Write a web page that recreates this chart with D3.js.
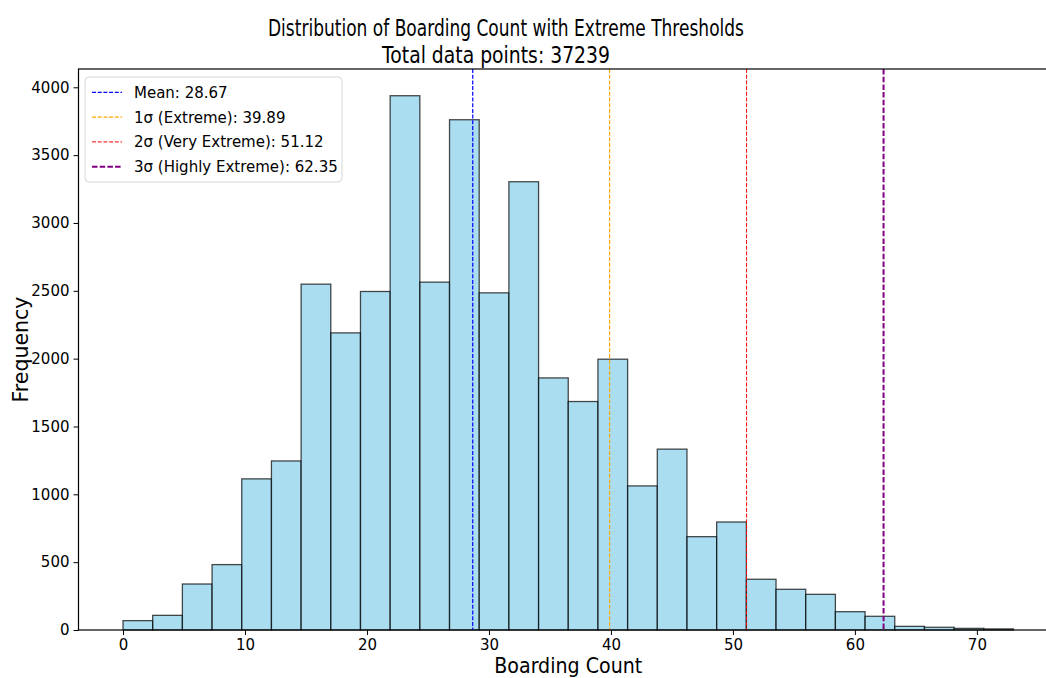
<!DOCTYPE html>
<html>
<head>
<meta charset="utf-8">
<script src="https://cdn.jsdelivr.net/npm/d3@7"></script>
<style>
  body { margin: 0; background: #fff; }
  svg text { font-family: "DejaVu Sans", sans-serif; fill: #000; }
</style>
</head>
<body>
<div id="chart"></div>
<script>
// histogram bins (0 to 73, 30 bins) and counts
const binStart = 0, binEnd = 73, binCount = 30;
const counts = [69, 108, 339, 482, 1114, 1246, 2549, 2190, 2495, 3938,
  2564, 3761, 2485, 3304, 1858, 1684, 1996, 1062, 1333, 688,
  796, 374, 300, 263, 135, 101, 27, 20, 12, 8];
const totalPoints = 37239;

const threshLabels = ["Mean: 28.67", "1σ (Extreme): 39.89", "2σ (Very Extreme): 51.12", "3σ (Highly Extreme): 62.35"];
const threshValues = [28.67, 39.89, 51.12, 62.35];
const threshColors = ["blue", "orange", "red", "purple"];
const threshWidths = [1.2, 1.2, 1, 2];

const xTicks = [0, 10, 20, 30, 40, 50, 60, 70];
const yTicks = [0, 500, 1000, 1500, 2000, 2500, 3000, 3500, 4000];

const W = 1046, H = 678;
const plot = { left: 78.5, right: 1058, top: 69, bottom: 630 };

const binW = (binEnd - binStart) / binCount;
const bins = counts.map((c, i) => ({ x0: binStart + i * binW, x1: binStart + (i + 1) * binW, n: c }));

const pad = (binEnd - binStart) * 0.05;
const x = d3.scaleLinear().domain([binStart - pad, binEnd + pad]).range([plot.left, plot.right]);
const y = d3.scaleLinear().domain([0, d3.max(counts) * 1.05]).range([plot.bottom, plot.top]);

const svg = d3.select("#chart").append("svg")
  .attr("width", W)
  .attr("height", H);

// bars
svg.selectAll(".bar")
  .data(bins)
  .enter().append("rect")
  .attr("class", "bar")
  .attr("x", d => x(d.x0))
  .attr("y", d => y(d.n))
  .attr("width", d => x(d.x1) - x(d.x0))
  .attr("height", d => y(0) - y(d.n))
  .style("fill", "skyblue")
  .style("fill-opacity", 0.7)
  .style("stroke", "#000")
  .style("stroke-opacity", 0.7)
  .style("stroke-width", 1.3);

// threshold lines
const dash = w => w > 1.5 ? "5.5,2.2" : "4,1.7";
svg.selectAll(".thresh")
  .data(threshValues)
  .enter().append("line")
  .attr("class", "thresh")
  .attr("x1", d => x(d)).attr("x2", d => x(d))
  .attr("y1", plot.top).attr("y2", plot.bottom)
  .style("stroke", (d, i) => threshColors[i])
  .style("stroke-width", (d, i) => threshWidths[i])
  .style("stroke-dasharray", (d, i) => dash(threshWidths[i]));

// axes
const xAxis = svg.append("g")
  .attr("transform", "translate(0," + plot.bottom + ")")
  .call(d3.axisBottom(x).tickValues(xTicks).tickFormat(d3.format("d")).tickSizeOuter(0).tickSize(5).tickPadding(4));
const yAxis = svg.append("g")
  .attr("transform", "translate(" + plot.left + ",0)")
  .call(d3.axisLeft(y).tickValues(yTicks).tickFormat(d3.format("d")).tickSizeOuter(0).tickSize(5).tickPadding(4));

[xAxis, yAxis].forEach(g => {
  g.select(".domain").remove();
  g.selectAll(".tick line").style("stroke", "#000").style("stroke-width", 1);
  g.selectAll(".tick text").style("font-size", "15px").style("font-family", "DejaVu Sans, sans-serif").style("fill", "#000");
});

// spines
svg.append("rect")
  .attr("x", plot.left).attr("y", plot.top)
  .attr("width", plot.right - plot.left).attr("height", plot.bottom - plot.top)
  .style("fill", "none").style("stroke", "#000").style("stroke-width", 1.2);

// titles
svg.append("text")
  .attr("x", 506).attr("y", 35.5)
  .attr("text-anchor", "middle")
  .attr("textLength", 476).attr("lengthAdjust", "spacingAndGlyphs")
  .style("font-size", "22.5px")
  .text("Distribution of Boarding Count with Extreme Thresholds");
svg.append("text")
  .attr("x", 496).attr("y", 63)
  .attr("text-anchor", "middle")
  .attr("textLength", 228).attr("lengthAdjust", "spacingAndGlyphs")
  .style("font-size", "22.5px")
  .text("Total data points: " + totalPoints);

svg.append("text")
  .attr("x", (plot.left + plot.right) / 2).attr("y", 673)
  .attr("text-anchor", "middle")
  .attr("textLength", 148).attr("lengthAdjust", "spacingAndGlyphs")
  .style("font-size", "21px")
  .text("Boarding Count");

svg.append("text")
  .attr("transform", "translate(28," + ((plot.top + plot.bottom) / 2) + ") rotate(-90)")
  .attr("text-anchor", "middle")
  .attr("textLength", 106).attr("lengthAdjust", "spacingAndGlyphs")
  .style("font-size", "21px")
  .text("Frequency");

// legend
const legend = svg.append("g").attr("class", "legend");
legend.append("rect")
  .attr("x", 85).attr("y", 77)
  .attr("width", 257).attr("height", 105)
  .attr("rx", 4).attr("ry", 4)
  .style("fill", "#fff").style("fill-opacity", 0.8)
  .style("stroke", "#d6d6d6").style("stroke-width", 1);

const rows = legend.selectAll(".row")
  .data(threshLabels)
  .enter().append("g")
  .attr("class", "row")
  .attr("transform", (d, i) => "translate(0," + (92.3 + i * 24.8) + ")");

rows.append("line")
  .attr("x1", 92).attr("x2", 122)
  .attr("y1", 0).attr("y2", 0)
  .style("stroke", (d, i) => threshColors[i])
  .style("stroke-width", (d, i) => threshWidths[i])
  .style("stroke-dasharray", (d, i) => dash(threshWidths[i]));

rows.append("text")
  .attr("x", 134).attr("y", 5.5)
  .style("font-size", "15px")
  .text(d => d);
</script>
</body>
</html>
